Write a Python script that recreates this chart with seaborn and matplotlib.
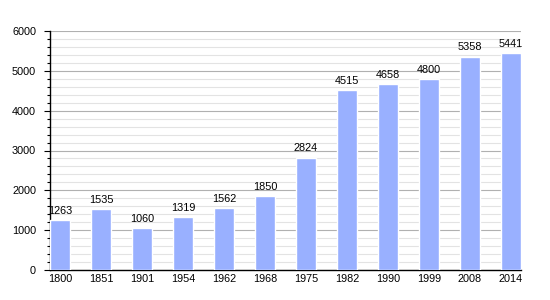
import matplotlib
matplotlib.use("Agg")
import matplotlib.pyplot as plt
import seaborn as sns
import pandas as pd
from matplotlib.ticker import MultipleLocator

years = ["1800", "1851", "1901", "1954", "1962", "1968", "1975", "1982", "1990", "1999", "2008", "2014"]
population = [1263, 1535, 1060, 1319, 1562, 1850, 2824, 4515, 4658, 4800, 5358, 5441]

df = pd.DataFrame({"year": years, "pop": population})

sns.set_style("white")
plt.rcParams["font.family"] = ["Liberation Sans", "DejaVu Sans"]
plt.rcParams["text.color"] = "black"
plt.rcParams["xtick.color"] = "black"
plt.rcParams["ytick.color"] = "black"

fig = plt.figure(figsize=(5.5, 3), dpi=100)
ax = fig.add_axes([50/550, 1-270/300, 471/550, 239/300])

sns.barplot(data=df, x="year", y="pop", color="#99b0ff", saturation=1, width=0.5, ax=ax, zorder=3)

ax.set_xlim(-0.25, len(years) - 0.75)
ax.set_ylim(0, 6000)
ax.yaxis.set_major_locator(MultipleLocator(1000))
ax.yaxis.set_minor_locator(MultipleLocator(200))
ax.grid(which="major", axis="y", color="#b0b0b0", linewidth=0.8, zorder=0)
ax.grid(which="minor", axis="y", color="#e3e3e3", linewidth=0.8, zorder=0)
ax.set_axisbelow(True)

for s in ["top", "right"]:
    ax.spines[s].set_visible(False)
for s in ["left", "bottom"]:
    ax.spines[s].set_color("black")
    ax.spines[s].set_linewidth(1.0)

ax.tick_params(axis="y", which="major", direction="out", length=4, width=0.8, color="black", labelcolor="black", labelsize=7.8, pad=6, left=True)
ax.tick_params(axis="y", which="minor", direction="out", length=2, width=0.8, color="black", left=True)
ax.tick_params(axis="x", length=0, labelsize=7.8, labelcolor="black", pad=3)
ax.set_xlabel("")
ax.set_ylabel("")

ax.bar_label(ax.containers[0], labels=[str(v) for v in population], fontsize=7.8, color="black", padding=3)

fig.savefig("out.png", dpi=100)
